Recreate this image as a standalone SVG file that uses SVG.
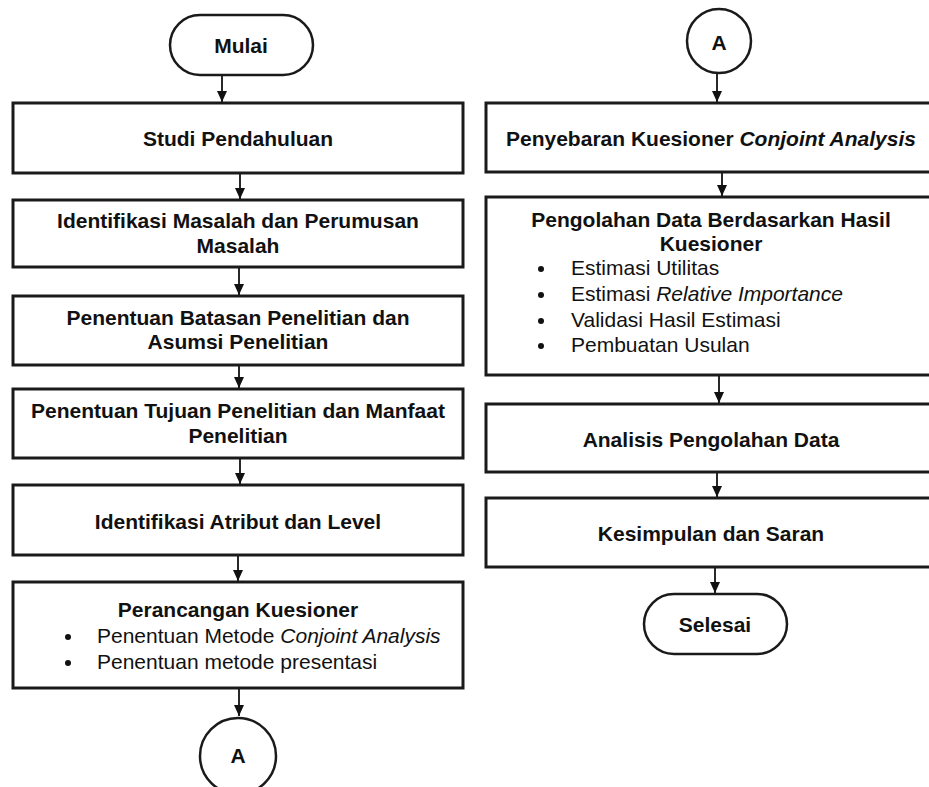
<svg xmlns="http://www.w3.org/2000/svg" width="929" height="787" viewBox="0 0 929 787">
<defs>
<marker id="ah" markerUnits="userSpaceOnUse" markerWidth="11" markerHeight="10" refX="11" refY="5" orient="auto" viewBox="0 0 11 10">
<path d="M0,0 L11,5 L0,10 Z" fill="#111"/>
</marker>
</defs>
<style>
.box{fill:#fff;stroke:#1a1a1a;stroke-width:3}
.term{fill:#fff;stroke:#1a1a1a;stroke-width:2.5}
.t{font-family:"Liberation Sans",Arial,sans-serif;font-size:21px;font-weight:bold;fill:#111;text-anchor:middle}
.r{font-family:"Liberation Sans",Arial,sans-serif;font-size:21px;fill:#111}
.conn line{stroke:#111;stroke-width:1.8;marker-end:url(#ah)}
</style>
<rect width="929" height="787" fill="#fff"/>
<g class="conn">
<line x1="222" y1="75" x2="222" y2="102"/>
<line x1="240" y1="173" x2="240" y2="199"/>
<line x1="239" y1="267" x2="239" y2="295"/>
<line x1="239" y1="365" x2="239" y2="388"/>
<line x1="240" y1="458" x2="240" y2="484"/>
<line x1="238" y1="555" x2="238" y2="581"/>
<line x1="239" y1="688" x2="239" y2="716"/>
<line x1="717" y1="73" x2="717" y2="102"/>
<line x1="722" y1="172" x2="722" y2="196"/>
<line x1="719" y1="375" x2="719" y2="403"/>
<line x1="717" y1="472" x2="717" y2="497"/>
<line x1="715" y1="567" x2="715" y2="593"/>
</g>
<g id="mulai"><rect class="term" x="170" y="15" width="143" height="60" rx="30"/><text class="t" x="241" y="53">Mulai</text></g>
<g id="studi"><rect class="box" x="13" y="103" width="450" height="70"/><text class="t" x="238" y="146">Studi Pendahuluan</text></g>
<g id="identifikasi-masalah"><rect class="box" x="13" y="200" width="450" height="67"/><text class="t" x="238" y="228">Identifikasi Masalah dan Perumusan</text><text class="t" x="238" y="253">Masalah</text></g>
<g id="batasan"><rect class="box" x="13" y="296" width="450" height="69"/><text class="t" x="238" y="325">Penentuan Batasan Penelitian dan</text><text class="t" x="238" y="349">Asumsi Penelitian</text></g>
<g id="tujuan"><rect class="box" x="13" y="389" width="450" height="69"/><text class="t" x="238" y="418">Penentuan Tujuan Penelitian dan Manfaat</text><text class="t" x="238" y="443">Penelitian</text></g>
<g id="atribut"><rect class="box" x="13" y="485" width="450" height="70"/><text class="t" x="238" y="529">Identifikasi Atribut dan Level</text></g>
<g id="perancangan"><rect class="box" x="13" y="582" width="450" height="106"/><text class="t" x="238" y="617">Perancangan Kuesioner</text>
<circle cx="68" cy="637" r="3" fill="#111"/><text class="r" x="97" y="643">Penentuan Metode <tspan font-style="italic">Conjoint Analysis</tspan></text>
<circle cx="68" cy="663" r="3" fill="#111"/><text class="r" x="97" y="669">Penentuan metode presentasi</text></g>
<g id="a-left"><circle class="term" cx="238" cy="756" r="38"/><text class="t" x="238" y="763">A</text></g>
<g id="a-right"><circle class="term" cx="719" cy="41" r="32"/><text class="t" x="719" y="50">A</text></g>
<g id="penyebaran"><rect class="box" x="486" y="103" width="451" height="69"/><text class="t" x="711" y="146">Penyebaran Kuesioner <tspan font-style="italic">Conjoint Analysis</tspan></text></g>
<g id="pengolahan"><rect class="box" x="486" y="197" width="451" height="178"/><text class="t" x="711" y="227">Pengolahan Data Berdasarkan Hasil</text><text class="t" x="711" y="251">Kuesioner</text>
<circle cx="541" cy="269" r="3" fill="#111"/><text class="r" x="571" y="275">Estimasi Utilitas</text>
<circle cx="541" cy="295" r="3" fill="#111"/><text class="r" x="571" y="301">Estimasi <tspan font-style="italic">Relative Importance</tspan></text>
<circle cx="541" cy="321" r="3" fill="#111"/><text class="r" x="571" y="327">Validasi Hasil Estimasi</text>
<circle cx="541" cy="346" r="3" fill="#111"/><text class="r" x="571" y="352">Pembuatan Usulan</text></g>
<g id="analisis"><rect class="box" x="486" y="404" width="451" height="68"/><text class="t" x="711" y="447">Analisis Pengolahan Data</text></g>
<g id="kesimpulan"><rect class="box" x="486" y="498" width="451" height="69"/><text class="t" x="711" y="541">Kesimpulan dan Saran</text></g>
<g id="selesai"><rect class="term" x="644" y="594" width="143" height="60" rx="30"/><text class="t" x="715" y="632">Selesai</text></g>
</svg>
